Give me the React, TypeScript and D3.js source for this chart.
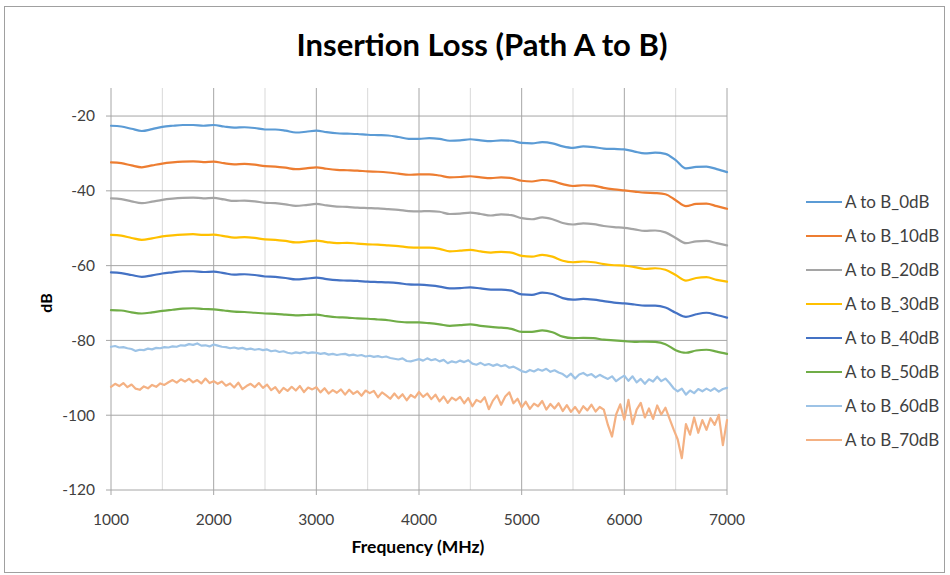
import React from "react";
import * as d3 from "d3";

// ---- data ----
const freqSmooth: number[] = d3.range(1000, 7001, 100);
const freqNoisy: number[] = d3.range(1000, 7001, 40);

const seriesNames = [
  "A to B_0dB",
  "A to B_10dB",
  "A to B_20dB",
  "A to B_30dB",
  "A to B_40dB",
  "A to B_50dB",
  "A to B_60dB",
  "A to B_70dB",
];
const seriesColors = ["#5B9BD5", "#ED7D31", "#A5A5A5", "#FFC000", "#4472C4", "#70AD47", "#9DC3E6", "#F4B183"];

const loss0dB = [
  -22.6, -22.8, -23.4, -24.0, -23.5, -22.9, -22.6, -22.4, -22.4, -22.6,
  -22.4, -22.8, -23.1, -23.0, -23.2, -23.6, -23.6, -23.9, -24.4, -24.2,
  -23.9, -24.3, -24.6, -24.7, -24.8, -25.0, -25.1, -25.2, -25.6, -26.1,
  -26.1, -25.9, -26.1, -26.6, -26.5, -26.2, -26.5, -26.7, -26.5, -26.6,
  -27.2, -27.3, -27.0, -27.3, -28.1, -28.5, -28.1, -28.3, -28.7, -28.8,
  -28.9, -29.5, -30.0, -29.8, -30.1, -31.8, -34.0, -33.6, -33.5, -34.2,
  -35.0,
];
const loss10dB = [
  -32.4, -32.6, -33.2, -33.7, -33.2, -32.7, -32.4, -32.2, -32.1, -32.3,
  -32.2, -32.6, -32.9, -32.8, -33.0, -33.4, -33.5, -33.8, -34.2, -34.0,
  -33.7, -34.1, -34.4, -34.5, -34.6, -34.8, -34.9, -35.1, -35.4, -35.7,
  -35.6, -35.6, -35.9, -36.4, -36.3, -36.1, -36.4, -36.6, -36.4, -36.6,
  -37.3, -37.5, -37.1, -37.4, -38.2, -38.7, -38.5, -38.6, -39.2, -39.6,
  -39.9, -40.2, -40.5, -40.6, -40.9, -42.5, -44.1, -43.5, -43.4, -44.1,
  -44.8,
];
const loss20dB = [
  -42.0, -42.2, -42.8, -43.3, -42.9, -42.4, -42.1, -41.9, -41.8, -42.0,
  -41.9, -42.3, -42.7, -42.6, -42.8, -43.2, -43.3, -43.6, -44.0, -43.8,
  -43.5, -43.9, -44.2, -44.3, -44.5, -44.6, -44.7, -44.9, -45.1, -45.4,
  -45.5, -45.4, -45.6, -46.2, -46.1, -45.8, -46.2, -46.6, -46.3, -46.5,
  -47.3, -47.6, -47.1, -47.6, -48.6, -49.0, -48.7, -48.9, -49.4, -49.7,
  -49.9, -50.3, -50.7, -50.6, -51.1, -52.6, -54.0, -53.5, -53.4, -54.0,
  -54.6,
];
const loss30dB = [
  -51.8, -52.0, -52.6, -53.1, -52.7, -52.2, -51.9, -51.7, -51.6, -51.8,
  -51.7, -52.1, -52.5, -52.4, -52.6, -53.0, -53.1, -53.4, -53.8, -53.6,
  -53.3, -53.7, -54.0, -53.9, -54.1, -54.3, -54.4, -54.6, -54.8, -55.1,
  -55.2, -55.2, -55.5, -56.2, -56.0, -55.8, -56.2, -56.5, -56.3, -56.5,
  -57.4, -57.6, -57.1, -57.6, -58.7, -59.1, -58.9, -59.1, -59.6, -59.9,
  -60.0, -60.4, -60.9, -60.7, -61.1, -62.5, -64.0, -63.3, -63.1, -63.8,
  -64.3,
];
const loss40dB = [
  -61.8, -62.0, -62.5, -63.0, -62.6, -62.1, -61.8, -61.5, -61.5, -61.7,
  -61.6, -62.0, -62.4, -62.3, -62.5, -62.9, -63.0, -63.3, -63.7, -63.5,
  -63.2, -63.6, -63.9, -64.0, -64.1, -64.3, -64.4, -64.5, -64.7, -65.0,
  -65.1, -65.3, -65.6, -66.1, -66.0, -65.8, -66.1, -66.4, -66.4, -66.7,
  -67.7, -67.8, -67.2, -67.6, -68.7, -69.1, -68.9, -69.1, -69.5, -69.9,
  -70.1, -70.4, -70.7, -70.7, -71.2, -72.6, -73.7, -73.0, -72.6, -73.2,
  -73.9,
];
const loss50dB = [
  -71.9, -72.0, -72.5, -72.8, -72.5, -72.1, -71.8, -71.5, -71.4, -71.6,
  -71.7, -72.0, -72.3, -72.4, -72.6, -72.8, -72.9, -73.1, -73.3, -73.2,
  -73.1, -73.5, -73.8, -73.9, -74.1, -74.2, -74.4, -74.6, -75.0, -75.2,
  -75.2, -75.4, -75.7, -76.1, -75.9, -75.7, -76.1, -76.4, -76.6, -76.9,
  -77.7, -77.7, -77.3, -77.8, -79.0, -79.4, -79.3, -79.4, -79.8, -80.0,
  -80.2, -80.4, -80.3, -80.4, -81.0, -82.6, -83.3, -82.7, -82.5, -83.0,
  -83.6,
];
const loss60dB = [
  -81.7, -81.5, -81.9, -81.8, -82.1, -82.3, -82.8, -82.5, -82.6, -82.2,
  -82.4, -82.0, -82.1, -81.8, -81.9, -81.6, -81.7, -81.3, -81.4, -81.0,
  -81.2, -80.8, -81.4, -81.3, -81.6, -81.1, -81.4, -81.7, -81.8, -82.1,
  -81.9, -82.2, -82.0, -82.4, -82.2, -82.5, -82.3, -82.6, -82.4, -82.9,
  -82.7, -83.1, -82.9, -83.3, -83.5, -83.2, -83.4, -83.1, -83.4, -83.2,
  -83.3, -83.6, -83.4, -83.8, -83.6, -83.9, -83.7, -83.6, -84.0, -83.8,
  -84.1, -83.9, -84.3, -84.1, -84.4, -84.2, -84.5, -84.3, -84.7, -84.9,
  -85.1, -84.8, -85.5, -85.6, -85.3, -85.0, -85.4, -84.8, -85.3, -85.0,
  -85.6, -85.2, -86.1, -85.6, -85.9, -85.4, -85.8, -85.3, -86.2, -86.5,
  -86.0, -86.6, -86.3, -86.8, -86.4, -86.9, -86.6, -87.3, -87.0, -87.6,
  -88.2, -88.5, -87.9, -88.3, -87.7, -88.1, -87.6, -88.4, -88.0, -88.6,
  -89.0, -89.8, -88.9, -90.2, -89.1, -88.7, -89.4, -89.0, -89.9, -89.2,
  -89.8, -90.3, -89.6, -90.9, -90.1, -89.4, -90.8, -89.6, -91.2, -90.3,
  -91.6, -90.4, -91.0, -89.7, -90.9, -90.2, -91.4, -92.8, -93.6, -92.9,
  -94.5, -93.4, -94.1, -93.0, -93.6, -92.9, -93.5, -92.8, -93.7, -93.0,
  -92.7,
];
const loss70dB = [
  -92.4, -91.6, -92.2, -91.4, -92.5, -91.8, -92.9, -93.2, -92.3, -92.8,
  -91.9, -92.4, -91.5, -91.9, -91.2, -90.6, -91.3, -90.4, -91.0, -90.3,
  -91.2, -90.6, -91.5, -90.2, -91.4, -90.9, -91.6, -91.0, -92.1, -91.5,
  -92.6, -91.3, -93.0, -92.2, -91.6, -92.5, -91.4, -92.7, -91.8, -93.3,
  -92.5, -94.0, -92.7, -93.5, -92.4, -93.4, -92.2, -93.8, -92.6, -93.1,
  -92.5, -93.9, -92.8, -94.2, -93.3, -94.0, -93.1, -94.5, -93.2, -94.3,
  -93.6, -94.8, -93.4, -94.1, -93.5, -95.2, -93.9, -94.7, -95.6, -94.2,
  -95.5, -94.4, -96.0, -94.6, -95.3, -93.8, -95.1, -94.2, -95.7, -94.5,
  -96.3, -95.0, -96.7, -95.3, -96.0, -95.1, -96.8, -95.4, -97.6, -95.9,
  -96.5, -95.2, -98.4, -96.1, -94.7, -97.2, -95.0, -93.9, -96.8, -95.6,
  -97.9, -96.4, -98.3, -96.9, -97.6, -96.2, -98.5, -97.0, -98.2, -96.8,
  -98.9, -97.3, -99.1, -97.8, -99.4, -97.6, -98.7, -97.2, -99.0, -97.8,
  -98.5, -102.6, -105.7, -99.8, -97.1, -101.2, -95.9, -102.4, -98.5, -96.7,
  -100.6, -98.2, -101.0, -97.4, -99.8, -98.0, -100.9, -103.8, -106.5, -111.5,
  -102.4, -105.2, -100.6, -104.7, -101.3, -103.9, -100.8, -102.6, -99.9, -108.0,
  -101.3,
];

const seriesValues = [loss0dB, loss10dB, loss20dB, loss30dB, loss40dB, loss50dB, loss60dB, loss70dB];
const seriesFreqs = [freqSmooth, freqSmooth, freqSmooth, freqSmooth, freqSmooth, freqSmooth, freqNoisy, freqNoisy];

const xMajorTicks = [1000, 2000, 3000, 4000, 5000, 6000, 7000];
const xMinorTicks = [1500, 2500, 3500, 4500, 5500, 6500];
const yTicks = [-20, -40, -60, -80, -100, -120];

const titleText = "Insertion Loss (Path A to B)";
const xTitle = "Frequency (MHz)";
const yTitle = "dB";

// ---- layout ----
const W = 950;
const H = 575;
const plot = { left: 111, right: 727, top: 88, bottom: 490 };
const FONT = "Lato, 'Open Sans', 'DejaVu Sans', sans-serif";

export default function App() {
  const x = d3.scaleLinear().domain([1000, 7000]).range([plot.left, plot.right]);
  const y = d3.scaleLinear().domain([-120, -12.5]).range([plot.bottom, plot.top]);

  const majorGrid = "#A6A6A6";
  const minorGrid = "#D9D9D9";

  return (
    <svg
      width={W}
      height={H}
      viewBox={`0 0 ${W} ${H}`}
      style={{ position: "absolute", left: 0, top: 0, background: "#fff" }}
      fontFamily={FONT}
    >
      <rect x={0} y={0} width={W} height={H} fill="#fff" />
      <rect x={4.5} y={6.5} width={940} height={566} fill="none" stroke="#A0A0A0" strokeWidth={1} />

      <text x={482} y={56} textAnchor="middle" fontSize={31} fontWeight="bold" fill="#000">
        {titleText}
      </text>

      {/* minor vertical grid */}
      {xMinorTicks.map((t) => (
        <line key={"mn" + t} x1={x(t)} x2={x(t)} y1={plot.top} y2={plot.bottom} stroke={minorGrid} strokeWidth={1} />
      ))}
      {/* major vertical grid */}
      {xMajorTicks.map((t) => (
        <line key={"mj" + t} x1={x(t)} x2={x(t)} y1={plot.top} y2={plot.bottom + 5} stroke={majorGrid} strokeWidth={1} />
      ))}
      {/* horizontal grid */}
      {yTicks.map((t) => (
        <line key={"h" + t} x1={plot.left - 5} x2={plot.right} y1={y(t)} y2={y(t)} stroke={majorGrid} strokeWidth={1} />
      ))}

      {/* y tick labels */}
      {yTicks.map((t) => (
        <text key={"yl" + t} x={95} y={y(t)} dy="0.35em" textAnchor="end" fontSize={15.5} fill="#404040">
          {t}
        </text>
      ))}
      {/* x tick labels */}
      {xMajorTicks.map((t) => (
        <text key={"xl" + t} x={x(t)} y={525} textAnchor="middle" fontSize={15.5} fill="#404040">
          {t}
        </text>
      ))}

      <text x={418} y={553} textAnchor="middle" fontSize={17.5} fontWeight="bold" fill="#000">
        {xTitle}
      </text>
      <text
        transform={`translate(52, ${(plot.top + plot.bottom) / 2 + 14}) rotate(-90)`}
        textAnchor="middle"
        fontSize={16}
        fontWeight="bold"
        fill="#000"
      >
        {yTitle}
      </text>

      {/* series */}
      {seriesValues.map((vals, si) => {
        const fr = seriesFreqs[si];
        const pts: [number, number][] = vals.map((v, i) => [fr[i], v]);
        const gen = d3
          .line<[number, number]>()
          .x((d) => x(d[0]))
          .y((d) => y(d[1]))
          .curve(si < 6 ? d3.curveMonotoneX : d3.curveLinear);
        return (
          <path
            key={"s" + si}
            d={gen(pts) || ""}
            fill="none"
            stroke={seriesColors[si]}
            strokeWidth={2.2}
            strokeLinejoin="round"
            strokeLinecap="round"
          />
        );
      })}

      {/* legend */}
      {seriesNames.map((name, i) => {
        const cy = 202 + i * 34;
        return (
          <g key={"lg" + i}>
            <line x1={806} x2={842} y1={cy} y2={cy} stroke={seriesColors[i]} strokeWidth={2.2} />
            <text x={845} y={cy} dy="0.35em" fontSize={17} fill="#404040">
              {name}
            </text>
          </g>
        );
      })}
    </svg>
  );
}
